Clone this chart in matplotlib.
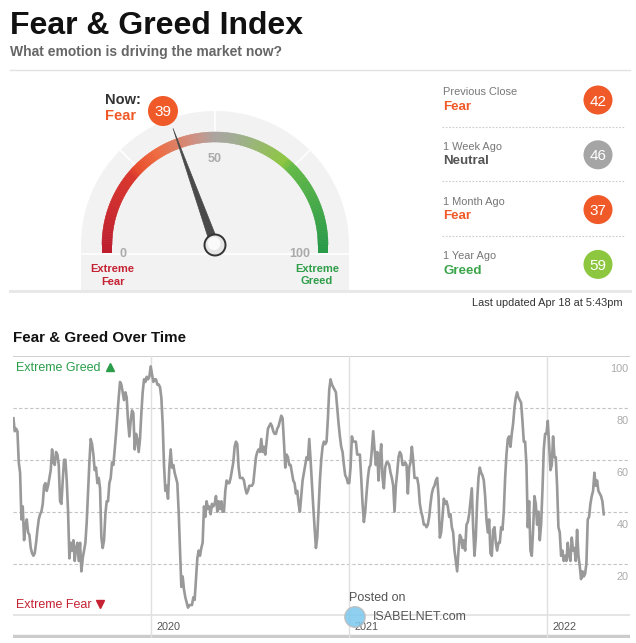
import numpy as np
import pandas as pd
import matplotlib
matplotlib.use("Agg")
import matplotlib.pyplot as plt
from matplotlib.patches import Circle, Polygon
from matplotlib.colors import LinearSegmentedColormap

plt.rcParams["font.family"] = ["Liberation Sans", "DejaVu Sans"]

# Fear & Greed history (one reading every ~2.5 days)
fg_values = [
    76, 71, 72, 71, 59, 55, 37, 42, 29, 35, 37, 32, 31, 26, 24, 23, 24, 28, 33, 37,
    39, 40, 43, 50, 51, 48, 50, 53, 56, 64, 59, 58, 63, 62, 58, 44, 43, 52, 60, 60,
    52, 40, 22, 28, 25, 29, 21, 26, 28, 21, 28, 17, 22, 25, 28, 36, 48, 59, 68, 66,
    62, 56, 57, 51, 53, 49, 30, 26, 29, 39, 44, 44, 51, 53, 59, 58, 64, 70, 77, 84,
    90, 89, 86, 83, 86, 84, 75, 69,
    75, 79, 78, 64, 70, 68, 63, 68, 78, 86, 91, 90, 92, 91, 92, 96, 93, 90, 91, 91,
    89, 89, 88, 84, 74, 58, 48, 50, 45, 57, 64, 57, 58, 55, 53, 51, 40, 25, 11, 15,
    10, 7, 5, 3, 4, 4, 4, 7, 6, 14, 22, 25, 23, 26, 28, 42, 38, 44, 41, 42,
    39, 43, 42, 43, 46, 40, 44, 41, 44, 40, 40, 48, 52, 51, 51, 53, 56, 59, 65, 67,
    66, 57, 53, 53, 53, 52, 49, 47, 48, 50,
    50, 50, 51, 56, 61, 63, 64, 63, 68, 63, 65, 62, 67, 72, 73, 74, 73, 71, 70, 70,
    72, 73, 75, 77, 76, 67, 57, 62, 61, 58, 58, 55, 52, 51, 47, 48, 43, 40, 46, 52,
    55, 58, 61, 60, 68, 60, 51, 42, 34, 26, 30, 41, 52, 60, 65, 67, 66, 67, 76, 87,
    91, 89, 88, 87, 86, 80, 74, 69, 65, 63, 58, 54, 53, 51, 51, 57, 69, 67, 67, 67,
    62, 62, 62, 53, 43, 36, 40, 47, 53, 57,
    58, 64, 71, 64, 58, 63, 52, 60, 66, 53, 49, 57, 59, 59, 58, 55, 53, 50, 40, 50,
    55, 61, 63, 62, 58, 58, 59, 58, 47, 57, 59, 65, 60, 53, 53, 53, 50, 43, 40, 38,
    35, 35, 34, 35, 38, 43, 47, 49, 50, 52, 53, 46, 30, 32, 38, 45, 43, 44, 42, 38,
    39, 34, 32, 25, 21, 17, 25, 31, 30, 26, 29, 25, 35, 36, 39, 44, 49, 34, 23, 30,
    44, 53, 57, 55, 54, 52, 46, 37, 32, 37,
    24, 23, 33, 34, 28, 25, 28, 28, 34, 33, 40, 53, 62, 68, 69, 65, 70, 74, 80, 84,
    86, 84, 83, 82, 75, 67, 67, 58, 34, 44, 25, 23, 33, 46, 43, 35, 40, 29, 35, 48,
    64, 70, 70, 75, 66, 56, 58, 69, 61, 61, 50, 34, 32, 23, 25, 21, 23, 21, 28, 23,
    21, 30, 25, 26, 21, 33, 23, 19, 14, 17, 15, 16, 20, 37, 38, 43, 46, 48, 55, 50,
    52, 48, 47, 46, 44, 39,
]
fg_start = "2019-04-23"
fg_end = "2022-04-15"

now_value = 39
now_rating = "Fear"

hist_labels = ["Previous Close", "1 Week Ago", "1 Month Ago", "1 Year Ago"]
hist_values = [42, 46, 37, 59]
hist_ratings = ["Fear", "Neutral", "Fear", "Greed"]

y_ticks = [20, 40, 60, 80, 100]
year_ticks = ["2020", "2021", "2022"]

rating_text = {"Fear": "#f05a28", "Neutral": "#555555", "Greed": "#3aa54a"}
rating_fill = {"Fear": "#f05a28", "Neutral": "#a5a5a5", "Greed": "#8dc63f"}

W, H = 636, 643
fig = plt.figure(figsize=(W / 100, H / 100), dpi=100)
bg = fig.add_axes([0, 0, 1, 1])
bg.set_xlim(0, W)
bg.set_ylim(H, 0)
bg.axis("off")
bg.set_zorder(0)

# header
bg.text(10, 33.5, "Fear & Greed Index", fontsize=23, fontweight="bold", color="#111111")
bg.text(10, 56, "What emotion is driving the market now?", fontsize=10,
        fontweight="bold", color="#666666")
bg.plot([10, 630], [70, 70], color="#e2e2e2", lw=1)

# ---- gauge ----
gx, gy = 215, 245


def gpt(r, v):
    th = np.pi * (1 - v / 100)
    return gx + r * np.cos(th), gy - r * np.sin(th)


# grey background
ang = np.linspace(0, 100, 200)
outer = [gpt(134, v) for v in ang]
bg_poly = [(81, 290)] + outer + [(349, 290)]
bg.add_patch(Polygon(bg_poly, closed=True, fc="#f2f2f2", ec="none", zorder=1))

for v in [25, 50, 75]:
    p1, p2 = gpt(113, v), gpt(134, v)
    bg.plot([p1[0], p2[0]], [p1[1], p2[1]], color="white", lw=1.2, zorder=2)
bg.plot([81, 349], [253.5, 253.5], color="white", lw=1.2, zorder=2)

band_cmap = LinearSegmentedColormap.from_list("fg", [
    (0.0, "#bf1e2e"), (0.22, "#d9352b"), (0.25, "#e84d2b"), (0.32, "#ee6a3f"),
    (0.44, "#cf8f82"), (0.5, "#aaa39f"), (0.56, "#a0ab94"), (0.72, "#8cc63f"),
    (0.75, "#62b946"), (1.0, "#2a9b48")])
edges = np.linspace(0, 100, 201)
for v0, v1 in zip(edges[:-1], edges[1:]):
    c = band_cmap((v0 + v1) / 200)
    poly = [gpt(113, v0), gpt(113, v1), gpt(103, v1), gpt(103, v0)]
    bg.add_patch(Polygon(poly, closed=True, fc=c, ec=c, lw=0.4, zorder=3))
bg.add_patch(Polygon([(102, 245), (112, 245), (112, 253), (102, 253)], fc=band_cmap(0.0),
                     ec="none", zorder=3))
bg.add_patch(Polygon([(318, 245), (328, 245), (328, 253), (318, 253)], fc=band_cmap(1.0),
                     ec="none", zorder=3))

bg.text(gx, 162, "50", fontsize=9, fontweight="bold", color="#aaaaaa", ha="center", zorder=4)
bg.text(123.5, 257, "0", fontsize=9, fontweight="bold", color="#aaaaaa", ha="center", zorder=4)
bg.text(300, 257, "100", fontsize=9, fontweight="bold", color="#aaaaaa", ha="center", zorder=4)
bg.text(112.5, 272.5, "Extreme", fontsize=8, fontweight="bold", color="#c52233", ha="center", zorder=4)
bg.text(112.5, 285, "Fear", fontsize=8, fontweight="bold", color="#c52233", ha="center", zorder=4)
bg.text(317, 272.5, "Extreme", fontsize=8, fontweight="bold", color="#2e9e48", ha="center", zorder=4)
bg.text(317, 284, "Greed", fontsize=8, fontweight="bold", color="#2e9e48", ha="center", zorder=4)

# needle
th = np.pi * (1 - now_value / 100)
tip = gpt(124, now_value)
nx, ny = -np.sin(th), -np.cos(th)
needle = [tip, (gx + 5.5 * nx, gy - 5.5 * ny), (gx - 5.5 * nx, gy + 5.5 * ny)]
bg.add_patch(Polygon(needle, closed=True, fc="#4a4a4a", ec="#4a4a4a", lw=0.5, zorder=5))
bg.add_patch(Circle((gx, gy), 10.5, fc="#e6e6e6", ec="#333333", lw=1.4, zorder=6))
bg.add_patch(Circle((gx - 1, gy - 1.5), 6.5, fc="#fafafa", ec="none", zorder=6))

bg.text(105, 104, "Now:", fontsize=10.5, fontweight="bold", color="#333333")
bg.text(105, 120, now_rating, fontsize=10.5, fontweight="bold", color=rating_text[now_rating])
bg.add_patch(Circle((163, 111), 15, fc=rating_fill[now_rating], ec="none", zorder=4))
bg.text(163, 111, str(now_value), fontsize=11, color="white", ha="center",
        va="center_baseline", zorder=5)

# ---- previous values ----
for i, (lab, val, rat) in enumerate(zip(hist_labels, hist_values, hist_ratings)):
    base = 95 + i * 54.8
    bg.text(443, base, lab, fontsize=7.9, color="#777777")
    bg.text(443, base + 14.5, rat, fontsize=9.6, fontweight="bold", color=rating_text[rat])
    bg.add_patch(Circle((598, base + 5), 14.5, fc=rating_fill[rat], ec="none"))
    bg.text(598, base + 5, str(val), fontsize=11, color="white", ha="center",
            va="center_baseline")
    if i < 3:
        bg.plot([442, 624], [base + 31.5, base + 31.5], color="#cccccc", lw=0.8,
                ls=(0, (1.5, 1.5)))

bg.plot([10, 630], [291.3, 291.3], color="#e8e8e8", lw=2.2)
bg.text(623, 306, "Last updated Apr 18 at 5:43pm", fontsize=7.9, color="#333333", ha="right")

# ---- over time ----
bg.text(13, 341.7, "Fear & Greed Over Time", fontsize=10.9, fontweight="bold", color="#111111")
bg.text(15.7, 370.7, "Extreme Greed", fontsize=9, color="#2a9d4a", zorder=5)
bg.plot([109.5], [366.5], marker="^", ms=6, color="#2a9d4a", zorder=5)
bg.text(15.7, 607.7, "Extreme Fear", fontsize=9, color="#c52233", zorder=5)
bg.plot([100], [603.5], marker="v", ms=6, color="#c52233", zorder=5)

dates = pd.date_range(fg_start, fg_end, periods=len(fg_values))

ax = fig.add_axes([13 / W, (H - 638) / H, 617 / W, 282 / H])
ax.set_zorder(1)
ax.patch.set_alpha(0)
ax.set_xlim(pd.Timestamp("2019-04-22 05:00"), pd.Timestamp("2022-06-02 10:00"))
ax.set_ylim(-8.7, 100)
for s in ax.spines.values():
    s.set_visible(False)
ax.set_xticks([])
ax.set_yticks([])

for t in y_ticks[:-1]:
    ax.axhline(t, color="#c4c4c4", lw=0.8, ls=(0, (3, 2)), zorder=1)
ax.axhline(100, color="#cccccc", lw=1.3, zorder=1)
ax.axhline(0, color="#e0e0e0", lw=1.2, zorder=1)
ax.axhline(-7.8, color="#cccccc", lw=2.5, zorder=1)
for yr in year_ticks:
    d = pd.Timestamp(yr + "-01-01")
    ax.axvline(d, color="#e0e0e0", lw=1, zorder=1)
    ax.text(d + pd.Timedelta(days=10), -5.6, yr, fontsize=7.8, color="#555555", va="baseline")
for t in y_ticks:
    ax.text(0.9973, t - 6.3, str(t), transform=ax.get_yaxis_transform(), fontsize=7.8,
            color="#aaaaaa", ha="right", va="baseline")

ax.plot(dates, fg_values, color="#999999", lw=1.9, zorder=3)

# watermark
fig.text(349 / W, 1 - 601 / H, "Posted on", fontsize=9, color="#555555")
fig.text(373 / W, 1 - 620 / H, "ISABELNET.com", fontsize=9, color="#555555")
fig.patches.append(Circle((355 / W, 1 - 617 / H), 0.016, transform=fig.transFigure,
                          fc="#7cc8ee", ec="#bbbbbb", lw=1, alpha=0.85))

fig.savefig("out.png", dpi=100)
